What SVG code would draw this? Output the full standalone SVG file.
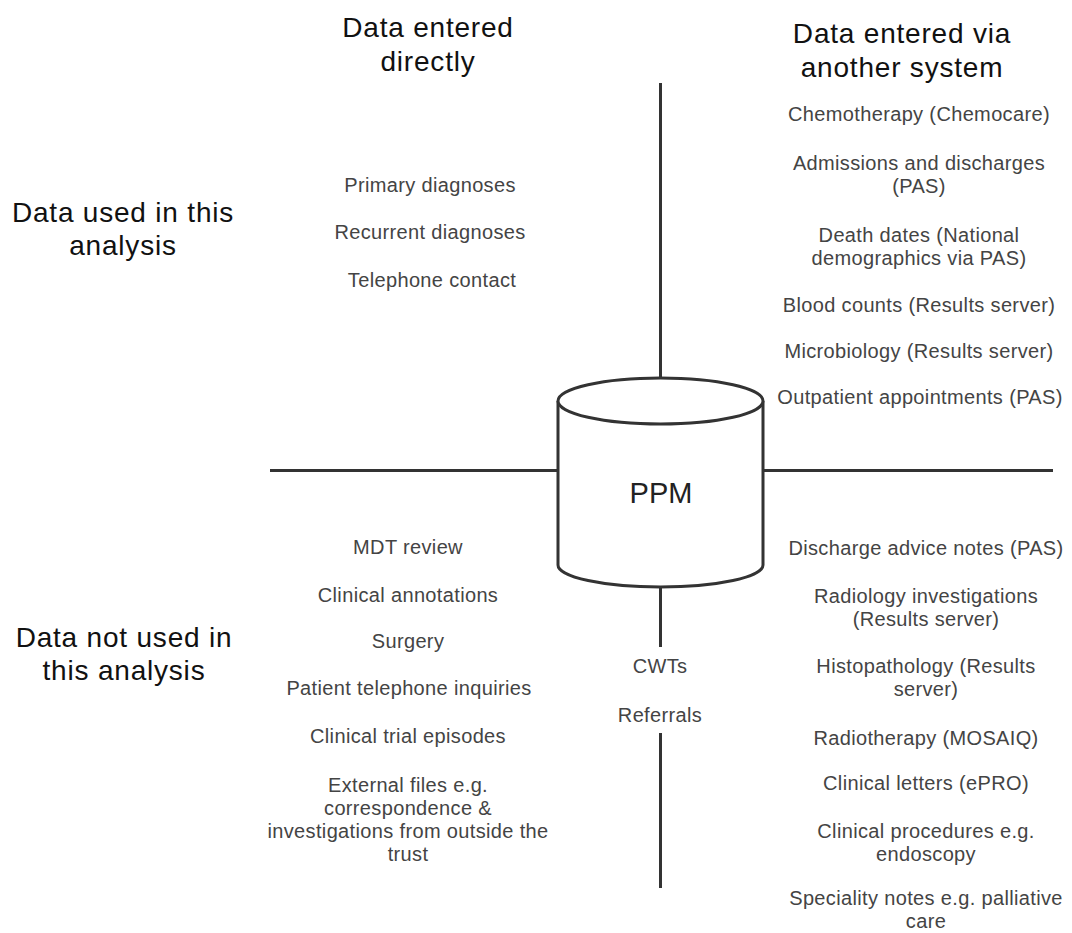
<svg xmlns="http://www.w3.org/2000/svg" width="1072" height="933" viewBox="0 0 1072 933">
<style>
.ln{stroke:#333;stroke-width:3;fill:none}
.cyl{stroke:#333;stroke-width:3;fill:#fff}
.h{font-family:"Liberation Sans",Arial,sans-serif;font-size:28px;letter-spacing:0.8px;fill:#111;text-anchor:middle}
.t{font-family:"Liberation Sans",Arial,sans-serif;font-size:20px;letter-spacing:0.35px;fill:#444;text-anchor:middle}
.ppm{font-family:"Liberation Sans",Arial,sans-serif;font-size:29px;fill:#222;text-anchor:middle}
</style>
<rect width="1072" height="933" fill="#fff"/>
<g id="connectors">
<line class="ln" x1="660.5" y1="83" x2="660.5" y2="378"/>
<line class="ln" x1="660.5" y1="587" x2="660.5" y2="647"/>
<line class="ln" x1="660.5" y1="733" x2="660.5" y2="888"/>
<line class="ln" x1="270" y1="470.5" x2="558" y2="470.5"/>
<line class="ln" x1="763" y1="470.5" x2="1053" y2="470.5"/>
</g>
<g id="ppm">
<path class="cyl" d="M558,401 L558,565 A102.5,22 0 0 0 763,565 L763,401"/>
<ellipse class="cyl" cx="660.5" cy="401" rx="102.5" ry="23"/>
<text class="ppm" x="661" y="503">PPM</text>
</g>
<g id="heading-direct">
<text class="h" x="428" y="37">Data entered</text>
<text class="h" x="428" y="71">directly</text>
</g>
<g id="heading-other">
<text class="h" x="902" y="43">Data entered via</text>
<text class="h" x="902" y="77">another system</text>
</g>
<g id="heading-used">
<text class="h" x="123" y="222">Data used in this</text>
<text class="h" x="123" y="255">analysis</text>
</g>
<g id="heading-notused">
<text class="h" x="124" y="647">Data not used in</text>
<text class="h" x="124" y="680">this analysis</text>
</g>
<g id="used-direct">
<text class="t" x="430" y="192">Primary diagnoses</text>
<text class="t" x="430" y="239">Recurrent diagnoses</text>
<text class="t" x="432" y="287">Telephone contact</text>
</g>
<g id="used-other">
<text class="t" x="919" y="121">Chemotherapy (Chemocare)</text>
<text class="t" x="919" y="170">Admissions and discharges</text>
<text class="t" x="919" y="193">(PAS)</text>
<text class="t" x="919" y="242">Death dates (National</text>
<text class="t" x="919" y="265">demographics via PAS)</text>
<text class="t" x="919" y="312">Blood counts (Results server)</text>
<text class="t" x="919" y="358">Microbiology (Results server)</text>
<text class="t" x="920" y="404">Outpatient appointments (PAS)</text>
</g>
<g id="notused-direct">
<text class="t" x="408" y="554">MDT review</text>
<text class="t" x="408" y="602">Clinical annotations</text>
<text class="t" x="408" y="648">Surgery</text>
<text class="t" x="409" y="695">Patient telephone inquiries</text>
<text class="t" x="408" y="743">Clinical trial episodes</text>
<text class="t" x="408" y="792">External files e.g.</text>
<text class="t" x="408" y="815">correspondence &amp;</text>
<text class="t" x="408" y="838">investigations from outside the</text>
<text class="t" x="408" y="861">trust</text>
</g>
<g id="notused-middle">
<text class="t" x="660" y="673">CWTs</text>
<text class="t" x="660" y="722">Referrals</text>
</g>
<g id="notused-other">
<text class="t" x="926" y="555">Discharge advice notes (PAS)</text>
<text class="t" x="926" y="603">Radiology investigations</text>
<text class="t" x="926" y="626">(Results server)</text>
<text class="t" x="926" y="673">Histopathology (Results</text>
<text class="t" x="926" y="696">server)</text>
<text class="t" x="926" y="745">Radiotherapy (MOSAIQ)</text>
<text class="t" x="926" y="790">Clinical letters (ePRO)</text>
<text class="t" x="926" y="838">Clinical procedures e.g.</text>
<text class="t" x="926" y="861">endoscopy</text>
<text class="t" x="926" y="905">Speciality notes e.g. palliative</text>
<text class="t" x="926" y="928">care</text>
</g>
</svg>
